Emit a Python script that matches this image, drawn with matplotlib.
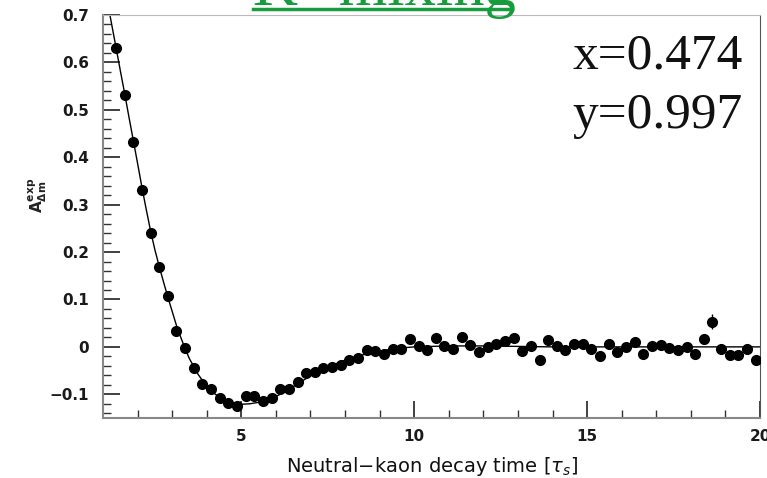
import numpy as np
import matplotlib
matplotlib.use("Agg")
import matplotlib.pyplot as plt

# measured asymmetry, bins of 0.25 tau_s starting at 1.25
t_data = [1.375 + 0.25 * i for i in range(75)]
a_data = [0.630, 0.532, 0.432, 0.330, 0.240, 0.168, 0.107, 0.034, -0.003, -0.044,
          -0.079, -0.089, -0.107, -0.118, -0.125, -0.104, -0.104, -0.114, -0.107, -0.089,
          -0.088, -0.075, -0.055, -0.053, -0.044, -0.043, -0.039, -0.027, -0.024, -0.007,
          -0.008, -0.016, -0.005, -0.005, 0.016, 0.002, -0.007, 0.018, 0.002, -0.005,
          0.020, 0.004, -0.011, 0.000, 0.007, 0.013, 0.019, -0.008, 0.002, -0.028,
          0.014, 0.002, -0.007, 0.006, 0.007, -0.005, -0.019, 0.007, -0.011, 0.000,
          0.011, -0.014, 0.002, 0.005, -0.002, -0.007, 0.000, -0.014, 0.016, 0.053,
          -0.005, -0.017, -0.017, -0.005, -0.028]
a_err = [0.004] * 30 + [0.006] * 20 + [0.009] * 19 + [0.016] + [0.009] * 5

# fitted curve
t_fit = [1.2, 1.375, 1.5, 1.625, 1.75, 1.875, 2.0, 2.125, 2.25, 2.375, 2.5, 2.625,
         2.75, 2.875, 3.0, 3.125, 3.25, 3.375, 3.5, 3.75, 4.0, 4.25, 4.5, 4.75, 5.0,
         5.25, 5.5, 6.0, 6.5, 7.0, 7.5, 8.0, 8.5, 9.0, 9.5, 10.0, 11.0, 12.0, 13.0,
         14.0, 16.0, 18.0, 20.0]
a_fit = [0.700, 0.632, 0.583, 0.535, 0.485, 0.436, 0.387, 0.337, 0.290, 0.245, 0.205, 0.170,
         0.137, 0.105, 0.075, 0.045, 0.020, -0.004, -0.025, -0.058, -0.083, -0.100, -0.111, -0.118, -0.121,
         -0.120, -0.117, -0.105, -0.084, -0.061, -0.043, -0.028, -0.017, -0.009, -0.003, 0.000, 0.002, 0.002, 0.001,
         0.000, 0.000, 0.000, 0.000]

fig = plt.figure(figsize=(7.67, 4.78), dpi=100)
ax = fig.add_axes([103 / 767, 1 - 418 / 478, (760 - 103) / 767, (418 - 15) / 478])

ax.plot(t_fit, a_fit, color="black", linewidth=1.0, zorder=2)
ax.errorbar(t_data, a_data, yerr=a_err, fmt="o", color="black", markersize=7,
            elinewidth=1.0, capsize=0, zorder=3)

ax.set_xlim(1, 20)
ax.set_ylim(-0.15, 0.7)
ax.set_xticks([5, 10, 15, 20])
ax.set_xticks(np.arange(2, 20, 1), minor=True)
ax.set_yticks([-0.1, 0, 0.1, 0.2, 0.3, 0.4, 0.5, 0.6, 0.7])
ax.set_yticks(np.arange(-0.14, 0.7, 0.02), minor=True)
ax.set_yticklabels(["\u22120.1", "0", "0.1", "0.2", "0.3", "0.4", "0.5", "0.6", "0.7"])
ax.set_xticklabels(["5", "10", "15", "20"])

ax.tick_params(which="both", direction="in", colors="#333333", labelcolor="#1a1a1a")
ax.tick_params(which="major", length=12, width=1.3, labelsize=11)
ax.tick_params(which="minor", length=6, width=1.0)
ax.tick_params(axis="y", pad=10)
ax.tick_params(axis="x", pad=8)
for lab in ax.get_xticklabels() + ax.get_yticklabels():
    lab.set_fontweight("bold")

ax.spines["left"].set_color("#888888")
ax.spines["bottom"].set_color("#888888")
ax.spines["left"].set_linewidth(1.5)
ax.spines["bottom"].set_linewidth(1.5)
ax.spines["top"].set_color("#bbbbbb")
ax.spines["right"].set_color("#555555")

ax.set_xlabel("Neutral\u2212kaon decay time [$\\tau_s$]", fontsize=14, color="#111111", labelpad=8)
fig.text(38 / 767, 1 - 195 / 478, r"$\mathbf{A^{exp}_{\Delta m}}$", rotation=90, fontsize=11,
         ha="center", va="center", color="#222222")

ax.text(0.974, 0.868, "x=0.474", transform=ax.transAxes, ha="right", va="baseline",
        fontsize=37, family="Liberation Serif", color="#111111")
ax.text(0.974, 0.72, "y=0.997", transform=ax.transAxes, ha="right", va="baseline",
        fontsize=37, family="Liberation Serif", color="#111111")

# slide title, mostly off the top of the picture
green = "#169c3c"
fig.text(253 / 767, 1 - 5 / 478, "K\u2070 mixing", fontsize=45, color=green,
         family=["Liberation Serif", "DejaVu Serif"], ha="left", va="baseline")
fig.add_artist(plt.Line2D([253 / 767, 512 / 767], [1 - 9 / 478, 1 - 9 / 478],
                          transform=fig.transFigure, color=green, linewidth=2.5))

fig.savefig("out.png", dpi=100)
